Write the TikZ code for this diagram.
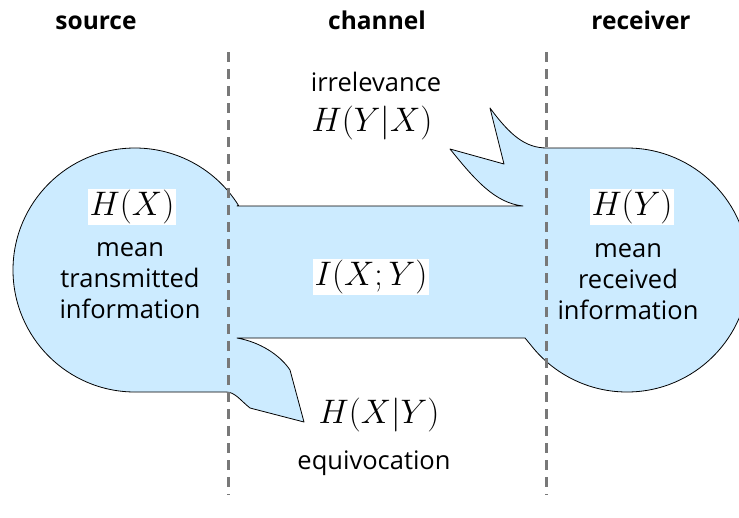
\RequirePackage{fix-cm}
\documentclass[tikz,border=0pt]{standalone}
\usepackage[no-math]{fontspec}
\setmainfont{Open Sans}
\begin{document}
\begin{tikzpicture}[x=1pt,y=-1pt,
  flow/.style={draw=black,line width=0.8pt,fill=flowblue,line join=round},
  divider/.style={draw=divgray,line width=3pt,dash pattern=on 10pt off 7pt},
  head/.style={font=\fontsize{24.5}{28}\selectfont\bfseries,anchor=base},
  lbl/.style={font=\fontsize{25.5}{31}\selectfont,anchor=base},
  mathlbl/.style={font=\fontsize{34}{38}\selectfont,fill=white,inner sep=1.5pt}]
\definecolor{flowblue}{RGB}{204,235,255}
\definecolor{divgray}{RGB}{120,120,120}
\useasboundingbox (0,0) rectangle (739,517);

% information flow: source disk, channel, receiver disk, with the two side flaps
\path[flow]
  (237,206) -- (523,206)
  .. controls (495,203) and (475,180) .. (450,149)
  -- (504,164) -- (490,108)
  .. controls (510,135) and (525,148) .. (547,148)
  -- (627,148)
  arc[start angle=-90,end angle=142,radius=122]
  -- (525,338)
  -- (237,338)
  .. controls (260,342) and (280,355) .. (290,370)
  -- (304,422) -- (250,408)
  .. controls (240,400) and (235,392) .. (226,392)
  -- (135,392)
  arc[start angle=90,end angle=328,radius=122]
  -- cycle;

% boundaries between source, channel and receiver
\draw[divider] (228,52) -- (228,495);
\draw[divider] (546,52) -- (546,495);

% column headings
\node[head] (hsrc) at (96,29) {source};
\node[head] (hchan) at (377,29) {channel};
\node[head] (hrec) at (641,29) {receiver};

% source
\node[mathlbl] (hx) at (132,207) {$H(X)$};
\node[lbl] (src1) at (130,256) {mean};
\node[lbl] (src2) at (130,287) {transmitted};
\node[lbl] (src3) at (130,318) {information};

% receiver
\node[mathlbl] (hy) at (632,207) {$H(Y)$};
\node[lbl] (rec1) at (628,257) {mean};
\node[lbl] (rec2) at (628,288) {received};
\node[lbl] (rec3) at (628,319) {information};

% mutual information in the channel
\node[mathlbl] (ixy) at (371,277) {$I(X;Y)$};

% irrelevance
\node[lbl] (irr) at (376,91) {irrelevance};
\node[mathlbl,fill=none] (hyx) at (372,123) {$H(Y|X)$};

% equivocation
\node[mathlbl,fill=none] (hxy) at (379,415) {$H(X|Y)$};
\node[lbl] (equ) at (374,469) {equivocation};
\end{tikzpicture}
\end{document}
